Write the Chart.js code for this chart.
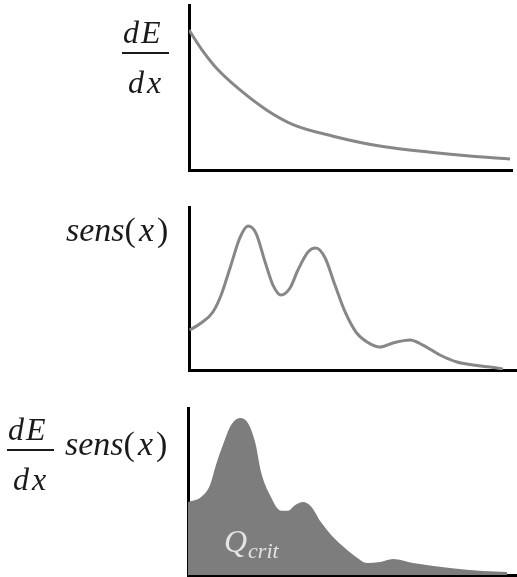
<!DOCTYPE html>
<html>
<head>
<meta charset="utf-8">
<script src="https://cdn.jsdelivr.net/npm/chart.js@4.4.1/dist/chart.umd.min.js"></script>
<style>
    body { margin: 0; background: #fff; }
    canvas { position: absolute; left: 0; }
</style>
</head>
<body>
<canvas id="dedx-chart" width="517" height="180" style="top:0"></canvas>
<canvas id="sens-chart" width="517" height="190" style="top:190px"></canvas>
<canvas id="prod-chart" width="517" height="182" style="top:395px"></canvas>

<script>
// stopping power dE/dx vs depth
const dedxX = [0, 4.3, 8.6, 15.8, 24, 32.2, 44.6, 60, 75.5, 86, 99.4];
const dedxY = [84.8, 72, 61.5, 48.5, 36.4, 27.5, 20.5, 14.2, 10.6, 8.6, 6.7];

// sensitivity profile sens(x)
const sensX = [0.2, 3.7, 7.3, 9.8, 12.8, 15.5, 18, 20.4, 23.2, 25.6, 28, 30.8, 33.2, 36.3, 38.7, 41.5, 44.5, 47.6, 50.9, 54.3, 58.2, 62.2, 67.4, 71.3, 76.5, 81.7, 86.6, 91.8, 95.7];
const sensY = [24.5, 28.8, 35.6, 46, 64.4, 81, 88.3, 84, 66.3, 52.1, 46, 50.3, 61.3, 72.4, 74.8, 68.7, 52.1, 35.6, 23.3, 17.2, 14.1, 16.6, 18.4, 15.3, 9.2, 4.9, 3.1, 1.8, 0.6];

// product dE/dx * sens(x), area = Q_crit
const prodX = [0, 4, 6.7, 8.5, 10.6, 13.1, 15.8, 18.2, 20.4, 22.2, 24.9, 28.3, 30.4, 32.5, 35, 37.4, 40.4, 43.5, 47.7, 51.1, 54.4, 58.4, 62.3, 68.4, 79.6, 89.7, 97];
const prodY = [43.7, 46.7, 53.9, 65.9, 77.8, 89.8, 94, 91, 79.6, 61.7, 47.9, 38.5, 38.5, 41.8, 43.7, 41, 31.7, 24, 16.2, 10.8, 7.2, 7.8, 9.6, 7.2, 4.2, 2.4, 1.8];

const SERIF = "'Liberation Serif', 'DejaVu Serif', serif";
const INK = '#1a1a1a';

function toPoints(xs, ys) {
    return xs.map((x, i) => ({ x: x, y: ys[i] }));
}

// draw a run of [text, italic?] pieces, returns end x
function drawRuns(ctx, runs, x, y, size, gap) {
    runs.forEach(([txt, italic]) => {
        ctx.font = (italic ? 'italic ' : '') + size + 'px ' + SERIF;
        for (const ch of txt) {
            ctx.fillText(ch, x, y);
            x += ctx.measureText(ch).width + gap;
        }
    });
    return x;
}

function drawFraction(ctx, x, y) {
    // dE over dx with a bar, y is the bar position
    ctx.fillStyle = INK;
    drawRuns(ctx, [['dE', true]], x + 1, y - 10, 32, 2);
    ctx.fillRect(x, y - 1, 47, 2);
    drawRuns(ctx, [['dx', true]], x + 6, y + 40, 32, 3);
}

function drawSens(ctx, x, y) {
    ctx.fillStyle = INK;
    let cx = drawRuns(ctx, [['sens', true], ['(', false]], x, y, 34, 0);
    cx = drawRuns(ctx, [['x', true]], cx + 3, y, 34, 0);
    drawRuns(ctx, [[')', false]], cx + 3, y, 34, 0);
}

const labelPlugins = {
    dedx: {
        id: 'dedxLabel',
        afterDraw(chart) {
            const ctx = chart.ctx;
            ctx.save();
            ctx.textBaseline = 'alphabetic';
            drawFraction(ctx, 122, 53);
            ctx.restore();
        }
    },
    sens: {
        id: 'sensLabel',
        afterDraw(chart) {
            const ctx = chart.ctx;
            ctx.save();
            ctx.textBaseline = 'alphabetic';
            drawSens(ctx, 66, 51);
            ctx.restore();
        }
    },
    prod: {
        id: 'prodLabel',
        afterDraw(chart) {
            const ctx = chart.ctx;
            ctx.save();
            ctx.textBaseline = 'alphabetic';
            drawFraction(ctx, 7, 55);
            drawSens(ctx, 65, 60);
            // Q_crit inside the filled area
            ctx.fillStyle = '#e4e4e4';
            ctx.font = 'italic 32px ' + SERIF;
            ctx.fillText('Q', 224, 157);
            const qw = ctx.measureText('Q').width;
            ctx.font = 'italic 22px ' + SERIF;
            ctx.fillText('crit', 224 + qw + 1, 163);
            ctx.restore();
        }
    }
};

function axis() {
    return {
        type: 'linear',
        min: 0,
        max: 100,
        grid: { display: false, drawTicks: false, tickLength: 0 },
        ticks: { display: false, padding: 0 },
        border: { display: true, color: '#000', width: 3 }
    };
}

function makePanel(id, dataset, padding, plugin) {
    const ctx = document.getElementById(id).getContext('2d');
    return new Chart(ctx, {
        type: 'line',
        data: { datasets: [dataset] },
        options: {
            responsive: false,
            animation: false,
            devicePixelRatio: 1,
            layout: { padding: padding },
            plugins: { legend: { display: false }, tooltip: { enabled: false } },
            elements: { point: { radius: 0 } },
            scales: { x: axis(), y: axis() }
        },
        plugins: [plugin]
    });
}

const charts = [
    makePanel('dedx-chart', {
        data: toPoints(dedxX, dedxY),
        borderColor: '#878787',
        borderWidth: 3,
        cubicInterpolationMode: 'monotone',
        fill: false
    }, { left: 189, right: 5, top: 5, bottom: 10 }, labelPlugins.dedx),

    makePanel('sens-chart', {
        data: toPoints(sensX, sensY),
        borderColor: '#878787',
        borderWidth: 3,
        cubicInterpolationMode: 'monotone',
        fill: false
    }, { left: 189, right: 0, top: 17, bottom: 10 }, labelPlugins.sens),

    makePanel('prod-chart', {
        data: toPoints(prodX, prodY),
        borderWidth: 0,
        backgroundColor: '#7d7d7d',
        cubicInterpolationMode: 'monotone',
        fill: 'origin'
    }, { left: 188, right: 0, top: 13, bottom: 2 }, labelPlugins.prod)
];

// redraw once the serif face is ready
Promise.all([
    document.fonts.load("italic 32px 'Liberation Serif'"),
    document.fonts.load("32px 'Liberation Serif'")
]).then(() => charts.forEach(c => c.draw()));
</script>
</body>
</html>
